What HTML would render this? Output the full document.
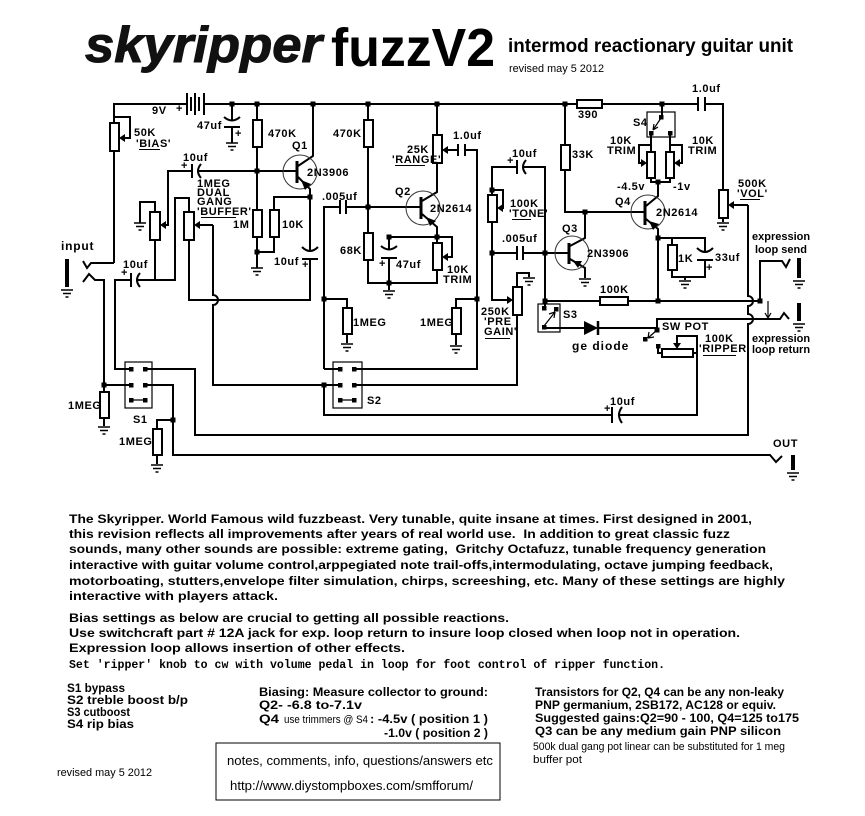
<!DOCTYPE html>
<html><head><meta charset="utf-8"><style>
html,body{margin:0;padding:0;background:#fff;}
svg{display:block;}
.w{fill:none;stroke:#000;stroke-width:2;}
.th{fill:none;stroke:#000;stroke-width:1.2;}
.r{fill:#fff;stroke:#000;stroke-width:2;}
.l{font-family:"Liberation Sans",sans-serif;font-weight:bold;font-size:11px;fill:#000;letter-spacing:0.6px;}
.lg{font-family:"Liberation Sans",sans-serif;font-weight:bold;font-size:12px;fill:#000;letter-spacing:1px;}
.p{font-family:"Liberation Sans",sans-serif;font-weight:bold;font-size:12px;fill:#000;white-space:pre;}
.m{font-family:"Liberation Mono",monospace;font-weight:bold;font-size:11.5px;fill:#000;white-space:pre;}
.n{font-family:"Liberation Sans",sans-serif;font-size:11px;fill:#000;white-space:pre;}
</style></head><body>
<svg width="865" height="816" viewBox="0 0 865 816" xmlns="http://www.w3.org/2000/svg">
<defs>
<g id="g"><path d="M-6,0H6M-4,3.5H4M-1.5,7H1.5" stroke="#000" stroke-width="1.6" fill="none"/></g>
<rect id="d" x="-2.5" y="-2.5" width="5" height="5" fill="#000"/>
<rect id="pin" x="-2" y="-2" width="4.5" height="4.5" fill="#000"/>
</defs>

<!-- TITLE -->
<text x="85" y="62" textLength="237" lengthAdjust="spacingAndGlyphs" style="font-family:'Liberation Sans',sans-serif;font-weight:bold;font-style:italic;font-size:50px;fill:#111;stroke:#111;stroke-width:1">skyripper</text>
<text x="331" y="66" textLength="164" lengthAdjust="spacingAndGlyphs" style="font-family:'Liberation Sans',sans-serif;font-weight:bold;font-size:54px;fill:#000">fuzzV2</text>
<text x="508" y="52" textLength="285" lengthAdjust="spacingAndGlyphs" style="font-family:'Liberation Sans',sans-serif;font-weight:bold;font-size:19px;fill:#000">intermod reactionary guitar unit</text>
<text x="509" y="72" textLength="95" lengthAdjust="spacingAndGlyphs" class="n">revised may 5 2012</text>

<!-- WIRES -->
<g class="w">
<path d="M114,263 V104 H186"/>
<path d="M206,104 H577 M602,104 H698 M705,104 H723 V190"/>
<path d="M114,263 H91 L87,268 L83,261"/>
<path d="M83,282 L89,274 L95,280 H104 V426"/>
<path d="M104,385 H131"/>
<path d="M131,280 H115 V369 H131"/>
<path d="M137,280 H175 V198 H189 V212"/>
<path d="M155,240 V280"/>
<path d="M155,212 V202 H140 V223"/>
<path d="M257,171 H198"/>
<path d="M192,171 H168 V225 H164"/>
<path d="M213,225 H199"/>
<path d="M213,225 V295 A5,5 0 0 1 213,305 V385 H340"/>
<path d="M189,240 V300 H310 V259"/>
<path d="M310,197 V251"/>
<path d="M114,117 H130 V138 H124"/>
<!-- Q1 -->
<path d="M257,104 V268"/>
<path d="M274,210 V197 H310 M274,237 V252 H257"/>
<path d="M313,104 V156 L298,166 M298,177 L310,189 V197"/>
<path d="M257,171 H297"/>
<path d="M232,104 V120 M232,127 V143"/>
<!-- Q2 -->
<path d="M324,369 V207 H340 M346,207 H421"/>
<path d="M324,369 H340"/>
<path d="M368,104 V283 H437 V270"/>
<path d="M389,283 V290 M389,237 V249 M389,258 V283 M389,237 H437"/>
<path d="M422,214 L437,227 V243"/>
<path d="M437,237 H452 V257 H447"/>
<path d="M422,201 L437,192 V163 M437,104 V135"/>
<path d="M458,150 H447"/>
<path d="M465,150 H477 V369 H354"/>
<path d="M324,299 H347 V308 M347,334 V343"/>
<path d="M477,299 H456 V308 M456,334 V345"/>
<path d="M354,385 H517 V315"/>
<path d="M324,385 V415 H612 M619,415 H697 V353"/>
<!-- tone -->
<path d="M517,167 H492 V195 M523,167 H545 V308"/>
<path d="M492,190 H503 V208 H502"/>
<path d="M492,222 V300 H508"/>
<path d="M492,253 H517 M523,253 H569"/>
<path d="M517,287 V273 H529 V277"/>
<!-- Q3 -->
<path d="M570,246 L585,238 V212 M570,259 L585,268 V278"/>
<path d="M565,104 V212 H645"/>
<!-- Q4 -->
<path d="M646,206 L658,196 V182 M646,219 L658,229 V301"/>
<path d="M662,104 V117"/>
<path d="M651,133 V152 M670,133 V152 M651,178 V182 H670 V178"/>
<path d="M651,145 H639 V163 H642 M670,145 H682 V163 H679"/>
<path d="M658,238 H705 V252 M705,260 V277 H672 V270 M672,245 V238 M685,277 V280"/>
<!-- 100K / loops -->
<path d="M545,301 H600 M628,301 H760"/>
<path d="M760,301 V261 H782 L786,267 L790,259"/>
<path d="M657,330 V319 H780 L784,313 L789,319"/>
<path d="M723,218 V222"/>
<path d="M748,205 H733"/>
<path d="M748,205 V296 A5,5 0 0 1 748,306 V314 A5,5 0 0 1 748,324 V435 H195 V369 H145"/>
<path d="M544,328 H584 M598,328 H657"/>
<path d="M658,346 V353 H662 M693,353 H697 V336 H677 V343"/>
<path d="M145,385 H173 V455 H770 L776,462 L782,456"/>
<path d="M173,420 H157 V429 M157,455 V464"/>
</g>

<!-- battery -->
<g stroke="#000" stroke-width="2">
<path d="M187,93 V115 M191,97 V111 M195,93 V115 M199,97 V111 M204,93 V115 M204,104 H207"/>
</g>

<!-- capacitor plates -->
<g class="w">
<path d="M224,117 Q232,124 240,117 M224,127 H240"/>
<path d="M192,164 V178 M201,164 Q195,171 201,178"/>
<path d="M131,273 V287 M140,273 Q134,280 140,287"/>
<path d="M302,247 Q310,255 318,247 M302,259 H318"/>
<path d="M340,200 V214 M346,200 V214"/>
<path d="M381,246 Q389,253 397,246 M381,258 H397"/>
<path d="M458,144 V156 M465,144 V156"/>
<path d="M517,160 V174 M526,160 Q520,167 526,174"/>
<path d="M517,246 V260 M523,246 V260"/>
<path d="M697,248 Q705,256 713,248 M697,260 H713"/>
<path d="M698,97 V111 M705,97 V111"/>
<path d="M612,407 V423 M622,407 Q616,415 622,423"/>
</g>

<!-- transistors -->
<g fill="none" stroke="#333" stroke-width="1">
<circle cx="300" cy="172" r="17"/>
<circle cx="423" cy="208" r="17"/>
<circle cx="572" cy="253" r="17"/>
<circle cx="648" cy="212" r="17"/>
</g>
<g stroke="#000" stroke-width="3">
<path d="M297,161 V183 M421,197 V219 M569,243 V264 M645,201 V225"/>
</g>
<g fill="#000">
<polygon points="301,180 305,190 311,184"/>
<polygon points="426,217 430,226 436,221"/>
<polygon points="573,261 578,268 582,261"/>
<polygon points="649,221 653,230 659,224"/>
</g>

<!-- resistors & pots -->
<g class="r">
<rect x="110" y="123" width="9" height="28"/>
<rect x="150" y="212" width="10" height="28"/>
<rect x="184" y="212" width="10" height="28"/>
<rect x="253" y="120" width="9" height="27"/>
<rect x="253" y="210" width="9" height="27"/>
<rect x="270" y="210" width="9" height="27"/>
<rect x="364" y="120" width="9" height="27"/>
<rect x="364" y="233" width="9" height="27"/>
<rect x="433" y="243" width="9" height="27"/>
<rect x="433" y="135" width="9" height="28"/>
<rect x="343" y="308" width="9" height="26"/>
<rect x="452" y="308" width="9" height="26"/>
<rect x="488" y="195" width="9" height="27"/>
<rect x="513" y="287" width="9" height="28"/>
<rect x="561" y="145" width="9" height="25"/>
<rect x="577" y="100" width="25" height="8"/>
<rect x="647" y="152" width="8" height="26"/>
<rect x="666" y="152" width="8" height="26"/>
<rect x="668" y="245" width="9" height="25"/>
<rect x="600" y="297" width="28" height="8"/>
<rect x="719" y="190" width="9" height="28"/>
<rect x="662" y="349" width="31" height="8"/>
<rect x="100" y="392" width="9" height="26"/>
<rect x="153" y="429" width="9" height="26"/>
</g>

<!-- wiper arrows -->
<g fill="#000">
<polygon points="119,138 125,134 125,142"/>
<polygon points="160,225 166,221 166,229"/>
<polygon points="194,225 200,221 200,229"/>
<polygon points="442,150 448,146 448,154"/>
<polygon points="442,257 448,253 448,261"/>
<polygon points="497,208 503,204 503,212"/>
<polygon points="513,300 507,296 507,304"/>
<polygon points="647,163 641,159 641,167"/>
<polygon points="674,163 680,159 680,167"/>
<polygon points="728,205 734,201 734,209"/>
<polygon points="677,349 673,343 681,343"/>
<polygon points="584,321 598,328 584,335"/>
</g>
<path d="M598,321 V335" stroke="#000" stroke-width="2.5"/>

<!-- switches -->
<g class="th">
<rect x="125" y="362" width="27" height="46"/>
<rect x="333" y="362" width="29" height="46"/>
<rect x="538" y="304" width="22" height="28"/>
<rect x="647" y="112" width="28" height="25"/>
<path d="M131,400 H145 M340,400 H354"/>
<path d="M544,326 L555,312 M555,312 L549,314 M555,312 L554,318"/>
<path d="M661,118 L653,130 M653,130 L654,124 M653,130 L658,127"/>
<path d="M657,330 L648,338 M648,338 L654,337 M648,338 L649,332"/>
<path d="M768,301 V318 M768,318 L765,313 M768,318 L771,313"/>
</g>
<g>
<use href="#pin" x="131" y="369"/><use href="#pin" x="145" y="369"/>
<use href="#pin" x="131" y="385"/><use href="#pin" x="145" y="385"/>
<use href="#pin" x="131" y="400"/><use href="#pin" x="145" y="400"/>
<use href="#pin" x="340" y="369"/><use href="#pin" x="354" y="369"/>
<use href="#pin" x="340" y="385"/><use href="#pin" x="354" y="385"/>
<use href="#pin" x="340" y="400"/><use href="#pin" x="354" y="400"/>
<use href="#pin" x="544" y="308"/><use href="#pin" x="556" y="309"/><use href="#pin" x="544" y="327"/>
<use href="#pin" x="661" y="117"/><use href="#pin" x="651" y="133"/><use href="#pin" x="670" y="133"/>
<use href="#pin" x="645" y="339"/><use href="#pin" x="658" y="346"/>
</g>

<!-- jack sleeves -->
<g stroke="#000" stroke-width="4">
<path d="M67,259 V287 M799,258 V278 M799,303 V321 M793,455 V470"/>
</g>

<!-- grounds -->
<use href="#g" x="232" y="143"/><use href="#g" x="257" y="268"/><use href="#g" x="140" y="223"/>
<use href="#g" x="67" y="290"/><use href="#g" x="104" y="427"/><use href="#g" x="157" y="465"/>
<use href="#g" x="389" y="291"/><use href="#g" x="347" y="344"/><use href="#g" x="456" y="346"/>
<use href="#g" x="529" y="278"/><use href="#g" x="585" y="279"/><use href="#g" x="685" y="281"/>
<use href="#g" x="723" y="223"/><use href="#g" x="799" y="281"/><use href="#g" x="799" y="324"/>
<use href="#g" x="793" y="473"/>

<!-- junctions -->
<g>
<use href="#d" x="232" y="104"/><use href="#d" x="257" y="104"/><use href="#d" x="313" y="104"/>
<use href="#d" x="368" y="104"/><use href="#d" x="437" y="104"/><use href="#d" x="565" y="104"/>
<use href="#d" x="662" y="104"/><use href="#d" x="257" y="171"/><use href="#d" x="257" y="252"/>
<use href="#d" x="310" y="197"/><use href="#d" x="368" y="207"/><use href="#d" x="437" y="237"/>
<use href="#d" x="389" y="283"/><use href="#d" x="324" y="299"/><use href="#d" x="477" y="299"/>
<use href="#d" x="324" y="385"/><use href="#d" x="104" y="385"/><use href="#d" x="173" y="420"/>
<use href="#d" x="492" y="190"/><use href="#d" x="492" y="253"/><use href="#d" x="545" y="253"/>
<use href="#d" x="585" y="212"/><use href="#d" x="658" y="238"/><use href="#d" x="545" y="301"/>
<use href="#d" x="658" y="301"/><use href="#d" x="760" y="301"/><use href="#d" x="657" y="330"/>
<use href="#d" x="658" y="182"/><use href="#d" x="389" y="237"/>
</g>

<!-- LABELS -->
<g class="l">
<text x="152" y="114">9V</text><text x="176" y="112">+</text>
<text x="134" y="136">50K</text><text x="136" y="147">'BIAS'</text>
<text x="197" y="129">47uf</text><text x="235" y="137">+</text>
<text x="268" y="137">470K</text>
<text x="292" y="149">Q1</text>
<text x="307" y="176">2N3906</text>
<text x="183" y="161">10uf</text><text x="181" y="169">+</text>
<text x="197" y="187">1MEG</text><text x="197" y="196">DUAL</text><text x="197" y="205">GANG</text><text x="197" y="215">'BUFFER'</text>
<text x="233" y="228">1M</text><text x="282" y="228">10K</text>
<text x="274" y="265">10uf</text><text x="302" y="268">+</text>
<text x="123" y="268">10uf</text><text x="121" y="276">+</text>
<text x="61" y="250" class="lg" style="letter-spacing:0.8px">input</text>
<text x="322" y="200">.005uf</text>
<text x="333" y="137">470K</text>
<text x="340" y="254">68K</text>
<text x="379" y="267">+</text><text x="396" y="268">47uf</text>
<text x="447" y="273">10K</text><text x="443" y="283">TRIM</text>
<text x="395" y="195">Q2</text><text x="430" y="212">2N2614</text>
<text x="407" y="153">25K</text><text x="392" y="163">'RANGE'</text>
<text x="453" y="139">1.0uf</text>
<text x="353" y="326">1MEG</text><text x="420" y="326">1MEG</text>
<text x="512" y="157">10uf</text><text x="507" y="164">+</text>
<text x="510" y="207">100K</text><text x="509" y="217">'TONE'</text>
<text x="502" y="242">.005uf</text>
<text x="481" y="315">250K</text><text x="484" y="325">'PRE</text><text x="484" y="335">GAIN'</text>
<text x="562" y="232">Q3</text><text x="587" y="257">2N3906</text>
<text x="572" y="158">33K</text>
<text x="578" y="118">390</text>
<text x="633" y="126">S4</text>
<text x="610" y="144">10K</text><text x="607" y="154">TRIM</text>
<text x="692" y="144">10K</text><text x="688" y="154">TRIM</text>
<text x="617" y="190">-4.5v</text><text x="673" y="190">-1v</text>
<text x="615" y="205">Q4</text><text x="656" y="216">2N2614</text>
<text x="678" y="262">1K</text><text x="715" y="261">33uf</text><text x="706" y="271">+</text>
<text x="692" y="92">1.0uf</text>
<text x="738" y="187">500K</text><text x="737" y="197">'VOL'</text>
<text x="752" y="240" style="letter-spacing:0">expression</text><text x="755" y="253" style="letter-spacing:0">loop send</text>
<text x="752" y="342" style="letter-spacing:0">expression</text><text x="752" y="353" style="letter-spacing:0">loop return</text>
<text x="600" y="293">100K</text>
<text x="563" y="318">S3</text>
<text x="572" y="350" class="lg">ge diode</text>
<text x="662" y="330">SW POT</text>
<text x="705" y="342">100K</text><text x="699" y="352">'RIPPER'</text>
<text x="610" y="405">10uf</text><text x="604" y="412">+</text>
<text x="68" y="409">1MEG</text><text x="133" y="423">S1</text><text x="119" y="445">1MEG</text>
<text x="367" y="404">S2</text>
<text x="773" y="447">OUT</text>
</g>
<!-- underlines -->
<g stroke="#000" stroke-width="1">
<path d="M139,149.5 H160 M201,217.5 H236 M395,165.5 H425 M512,219.5 H531 M485,338.5 H510 M740,199.5 H760 M703,355.5 H736"/>
</g>

<!-- PARAGRAPH -->
<text class="p" x="69" y="523" textLength="683" lengthAdjust="spacingAndGlyphs">The Skyripper. World Famous wild fuzzbeast. Very tunable, quite insane at times. First designed in 2001,</text>
<text class="p" x="69" y="538" textLength="661" lengthAdjust="spacingAndGlyphs">this revision reflects all improvements after years of real world use.  In addition to great classic fuzz</text>
<text class="p" x="69" y="553" textLength="697" lengthAdjust="spacingAndGlyphs">sounds, many other sounds are possible: extreme gating,  Gritchy Octafuzz, tunable frequency generation</text>
<text class="p" x="69" y="569" textLength="704" lengthAdjust="spacingAndGlyphs">interactive with guitar volume control,arppegiated note trail-offs,intermodulating, octave jumping feedback,</text>
<text class="p" x="69" y="585" textLength="716" lengthAdjust="spacingAndGlyphs">motorboating, stutters,envelope filter simulation, chirps, screeshing, etc. Many of these settings are highly</text>
<text class="p" x="69" y="600" textLength="209" lengthAdjust="spacingAndGlyphs">interactive with players attack.</text>
<text class="p" x="69" y="622" textLength="440" lengthAdjust="spacingAndGlyphs">Bias settings as below are crucial to getting all possible reactions.</text>
<text class="p" x="69" y="637" textLength="671" lengthAdjust="spacingAndGlyphs">Use switchcraft part # 12A jack for exp. loop return to insure loop closed when loop not in operation.</text>
<text class="p" x="69" y="652" textLength="336" lengthAdjust="spacingAndGlyphs">Expression loop allows insertion of other effects.</text>
<text class="m" x="69" y="668" textLength="596" lengthAdjust="spacingAndGlyphs">Set 'ripper' knob to cw with volume pedal in loop for foot control of ripper function.</text>

<!-- BOTTOM NOTES -->
<text class="p" x="67" y="692" textLength="58" lengthAdjust="spacingAndGlyphs">S1 bypass</text>
<text class="p" x="67" y="704" textLength="121" lengthAdjust="spacingAndGlyphs">S2 treble boost b/p</text>
<text class="p" x="67" y="716" textLength="63" lengthAdjust="spacingAndGlyphs">S3 cutboost</text>
<text class="p" x="67" y="728" textLength="67" lengthAdjust="spacingAndGlyphs">S4 rip bias</text>

<text class="p" x="259" y="696" textLength="229" lengthAdjust="spacingAndGlyphs">Biasing: Measure collector to ground:</text>
<text class="p" x="259" y="709" textLength="103" lengthAdjust="spacingAndGlyphs">Q2- -6.8 to-7.1v</text>
<text class="p" x="259" y="723" textLength="20" lengthAdjust="spacingAndGlyphs">Q4</text>
<text class="n" x="284" y="723" textLength="84" lengthAdjust="spacingAndGlyphs">use trimmers @ S4</text>
<text class="p" x="370" y="723" textLength="118" lengthAdjust="spacingAndGlyphs">: -4.5v ( position 1 )</text>
<text class="p" x="384" y="737" textLength="104" lengthAdjust="spacingAndGlyphs">-1.0v ( position 2 )</text>

<text class="p" x="535" y="696" textLength="249" lengthAdjust="spacingAndGlyphs">Transistors for Q2, Q4 can be any non-leaky</text>
<text class="p" x="535" y="709" textLength="241" lengthAdjust="spacingAndGlyphs">PNP germanium, 2SB172, AC128 or equiv.</text>
<text class="p" x="535" y="722" textLength="264" lengthAdjust="spacingAndGlyphs">Suggested gains:Q2=90 - 100, Q4=125 to175</text>
<text class="p" x="535" y="735" textLength="246" lengthAdjust="spacingAndGlyphs">Q3 can be any medium gain PNP silicon</text>
<text class="n" x="533" y="750" textLength="252" lengthAdjust="spacingAndGlyphs">500k dual gang pot linear can be substituted for 1 meg</text>
<text class="n" x="533" y="763" textLength="49" lengthAdjust="spacingAndGlyphs">buffer pot</text>

<rect x="216" y="743" width="284" height="57" fill="none" stroke="#000" stroke-width="1"/>
<text class="n" x="227" y="765" textLength="266" lengthAdjust="spacingAndGlyphs" style="font-size:13px">notes, comments, info, questions/answers etc</text>
<text class="n" x="230" y="790" textLength="243" lengthAdjust="spacingAndGlyphs" style="font-size:12.5px">http://www.diystompboxes.com/smfforum/</text>

<text class="n" x="57" y="776" textLength="95" lengthAdjust="spacingAndGlyphs">revised may 5 2012</text>
</svg>
</body></html>
